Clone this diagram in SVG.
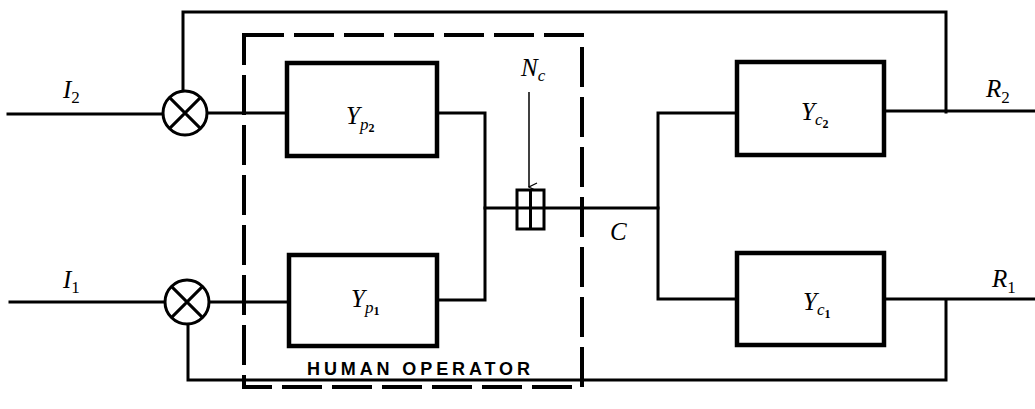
<svg xmlns="http://www.w3.org/2000/svg" width="1035" height="409" viewBox="0 0 1035 409">
<style>
.ln{fill:none;stroke:#000;stroke-width:3;stroke-linecap:square}
.bx{fill:#fff;stroke:#000;stroke-width:4.5}
.sum{fill:#fff;stroke:#000;stroke-width:3}
.lb{font-family:"Liberation Serif",serif;font-style:italic;font-size:25px;fill:#000}
.sb{font-size:17px}
.ssb{font-size:12px;font-style:normal;font-weight:bold}
.num{font-size:17px;font-style:normal}
.ho{font-family:"Liberation Sans",sans-serif;font-weight:bold;font-size:18px;fill:#000}
</style>
<defs>
<marker id="ar" markerWidth="10" markerHeight="10" refX="5" refY="9" orient="auto" markerUnits="userSpaceOnUse" viewBox="0 0 10 10">
<path d="M1,1 L5,9 L9,1" fill="none" stroke="#000" stroke-width="1.2"/>
</marker>
</defs>
<rect width="1035" height="409" fill="#fff"/>
<g id="connectors">
<path class="ln" d="M8,114 H163"/>
<path class="ln" d="M10,302 H165"/>
<path class="ln" d="M183,92 V12 H946 V112"/>
<path class="ln" d="M188,324 V380 H946 V300"/>
<path class="ln" d="M207,113 H287"/>
<path class="ln" d="M209,302 H289"/>
<path class="ln" d="M437,113 H485 V300 H437"/>
<path class="ln" d="M485,208 H517"/>
<path class="ln" d="M544,208 H658"/>
<path class="ln" d="M737,113 H658 V299 H737"/>
<path class="ln" d="M884,111 H1035"/>
<path class="ln" d="M884,299 H1035"/>
<path d="M529,92 V187" stroke="#000" stroke-width="1.5" fill="none" marker-end="url(#ar)"/>
</g>
<g id="human-operator">
<path d="M244,35 H582 V387 H244 Z" fill="none" stroke="#000" stroke-width="4" stroke-dasharray="40,10"/>
<text class="ho" x="307" y="375" textLength="223" lengthAdjust="spacing">HUMAN OPERATOR</text>
</g>
<g id="sum2">
<circle class="sum" cx="185" cy="113" r="22"/>
<path d="M169.4,97.4 L200.6,128.6 M200.6,97.4 L169.4,128.6" stroke="#000" stroke-width="3"/>
</g>
<g id="sum1">
<circle class="sum" cx="187" cy="302" r="22"/>
<path d="M171.4,286.4 L202.6,317.6 M202.6,286.4 L171.4,317.6" stroke="#000" stroke-width="3"/>
</g>
<g id="Yp2">
<rect class="bx" x="287" y="63" width="150" height="93"/>
<text class="lb" x="346" y="124">Y<tspan class="sb" dy="6">p</tspan><tspan class="ssb" dy="2">2</tspan></text>
</g>
<g id="Yp1">
<rect class="bx" x="289" y="255" width="148" height="91"/>
<text class="lb" x="351" y="307">Y<tspan class="sb" dy="6">p</tspan><tspan class="ssb" dy="2">1</tspan></text>
</g>
<g id="Nc">
<rect x="517" y="190" width="27" height="39" fill="#fff" stroke="#000" stroke-width="3"/>
<path d="M530.5,190 V229 M517,208 H544" stroke="#000" stroke-width="3"/>
<text class="lb" x="521" y="76">N<tspan class="sb" dy="5">c</tspan></text>
</g>
<g id="C">
<text class="lb" x="610" y="240">C</text>
</g>
<g id="Yc2">
<rect class="bx" x="737" y="62" width="147" height="93"/>
<text class="lb" x="801" y="120">Y<tspan class="sb" dy="5">c</tspan><tspan class="ssb" dy="3">2</tspan></text>
</g>
<g id="Yc1">
<rect class="bx" x="737" y="253" width="147" height="92"/>
<text class="lb" x="803" y="310">Y<tspan class="sb" dy="5">c</tspan><tspan class="ssb" dy="3">1</tspan></text>
</g>
<g id="labels">
<text class="lb" x="63" y="98">I<tspan class="num" dy="5">2</tspan></text>
<text class="lb" x="63" y="288">I<tspan class="num" dy="5">1</tspan></text>
<text class="lb" x="986" y="97">R<tspan class="num" dy="6">2</tspan></text>
<text class="lb" x="992" y="287">R<tspan class="num" dy="6">1</tspan></text>
</g>
</svg>
